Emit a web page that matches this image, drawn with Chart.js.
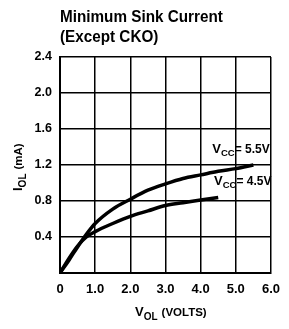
<!DOCTYPE html>
<html><head><meta charset="utf-8">
<script src="https://cdn.jsdelivr.net/npm/chart.js@4"></script>
<style>html,body{margin:0;padding:0;background:#fff}</style>
</head><body>
<canvas id="c" width="289" height="329" style="display:block;width:289px;height:329px"></canvas>
<script>
// ---- data ----
const vol55 = [0, 0.25, 0.5, 0.75, 1.0, 1.5, 2.0, 2.5, 3.0, 3.5, 4.0, 4.5, 5.0, 5.5];
const iol55 = [0, 0.14, 0.29, 0.43, 0.55, 0.71, 0.82, 0.92, 0.99, 1.05, 1.09, 1.13, 1.16, 1.20];
const vol45 = [0, 0.25, 0.5, 0.75, 1.0, 1.5, 2.0, 2.5, 3.0, 3.5, 4.0, 4.5];
const iol45 = [0, 0.16, 0.30, 0.40, 0.46, 0.55, 0.63, 0.69, 0.75, 0.78, 0.81, 0.84];
const xTickValues = [0, 1, 2, 3, 4, 5, 6];
const xTickLabels = ['0', '1.0', '2.0', '3.0', '4.0', '5.0', '6.0'];
const yTickValues = [0, 0.4, 0.8, 1.2, 1.6, 2.0, 2.4];
const yTickLabels = ['', '0.4', '0.8', '1.2', '1.6', '2.0', '2.4'];
const seriesLabels = ['= 5.5V', '= 4.5V'];
const titleLines = ['Minimum Sink Current', '(Except CKO)'];

const FONT = '"Liberation Sans", Arial, Helvetica, sans-serif';

function drawRuns(ctx, x, y, runs) {
  let cx = x;
  for (const r of runs) {
    ctx.font = 'bold ' + r.size + 'px ' + FONT;
    ctx.fillText(r.text, cx, y + (r.dy || 0));
    cx += ctx.measureText(r.text).width + (r.gap || 0);
  }
}

const textPlugin = {
  id: 'texts',
  afterDraw(chart) {
    const ctx = chart.ctx;
    const xs = chart.scales.x, ys = chart.scales.y;
    ctx.save();
    ctx.fillStyle = '#000';
    ctx.textBaseline = 'alphabetic';
    ctx.textAlign = 'left';
    // title (slightly condensed like the original typeface)
    ctx.save();
    ctx.translate(60, 0);
    ctx.scale(0.925, 1);
    ctx.font = 'bold 16.5px ' + FONT;
    ctx.fillText(titleLines[0], 0, 22);
    ctx.fillText(titleLines[1], 0, 42);
    ctx.restore();
    // x axis title
    drawRuns(ctx, 135, 316, [
      {text: 'V', size: 13},
      {text: 'OL', size: 10, dy: 4, gap: 4},
      {text: '(VOLTS)', size: 11.5}
    ]);
    // y axis title (rotated)
    ctx.save();
    ctx.translate(22, 191);
    ctx.rotate(-Math.PI / 2);
    drawRuns(ctx, 0, 0, [
      {text: 'I', size: 13},
      {text: 'OL', size: 10, dy: 4, gap: 4},
      {text: '(mA)', size: 11.5}
    ]);
    ctx.restore();
    // series labels
    drawRuns(ctx, xs.getPixelForValue(4.33), ys.getPixelForValue(1.335), [
      {text: 'V', size: 13},
      {text: 'CC', size: 9.5, dy: 3},
      {text: seriesLabels[0], size: 12}
    ]);
    drawRuns(ctx, xs.getPixelForValue(4.38), ys.getPixelForValue(0.98), [
      {text: 'V', size: 13},
      {text: 'CC', size: 9.5, dy: 3},
      {text: seriesLabels[1], size: 12}
    ]);
    ctx.restore();
  }
};

new Chart(document.getElementById('c'), {
  type: 'line',
  data: {
    datasets: [
      {label: 'VCC=5.5V', data: vol55.map((v, i) => ({x: v, y: iol55[i]}))},
      {label: 'VCC=4.5V', data: vol45.map((v, i) => ({x: v, y: iol45[i]}))}
    ].map(d => Object.assign(d, {
      borderColor: '#000', borderWidth: 3.5, pointRadius: 0,
      cubicInterpolationMode: 'monotone', fill: false
    }))
  },
  options: {
    responsive: false, animation: false, devicePixelRatio: 1,
    layout: {padding: {left: 0, right: 11, top: 57, bottom: 0}},
    plugins: {legend: {display: false}, title: {display: false}, tooltip: {enabled: false}},
    scales: {
      x: {
        type: 'linear', min: 0, max: 6,
        afterBuildTicks: s => { s.ticks = xTickValues.map(v => ({value: v})); },
        afterFit: s => { s.height = 56; },
        ticks: {
          callback: (v, i) => xTickLabels[i], color: '#000', padding: 9,
          maxRotation: 0, autoSkip: false,
          font: {family: FONT, size: 13, weight: 'bold'}
        },
        grid: {color: '#000', lineWidth: 1.5, drawTicks: false},
        border: {color: '#000', width: 2}
      },
      y: {
        type: 'linear', min: 0, max: 2.4,
        afterBuildTicks: s => { s.ticks = yTickValues.map(v => ({value: v})); },
        afterFit: s => { s.width = 60; },
        ticks: {
          callback: (v, i) => yTickLabels[i], color: '#000', padding: 8,
          autoSkip: false,
          font: {family: FONT, size: 12.5, weight: 'bold'}
        },
        grid: {color: '#000', lineWidth: 1.5, drawTicks: false},
        border: {color: '#000', width: 2}
      }
    }
  },
  plugins: [textPlugin]
});
</script>
</body></html>
